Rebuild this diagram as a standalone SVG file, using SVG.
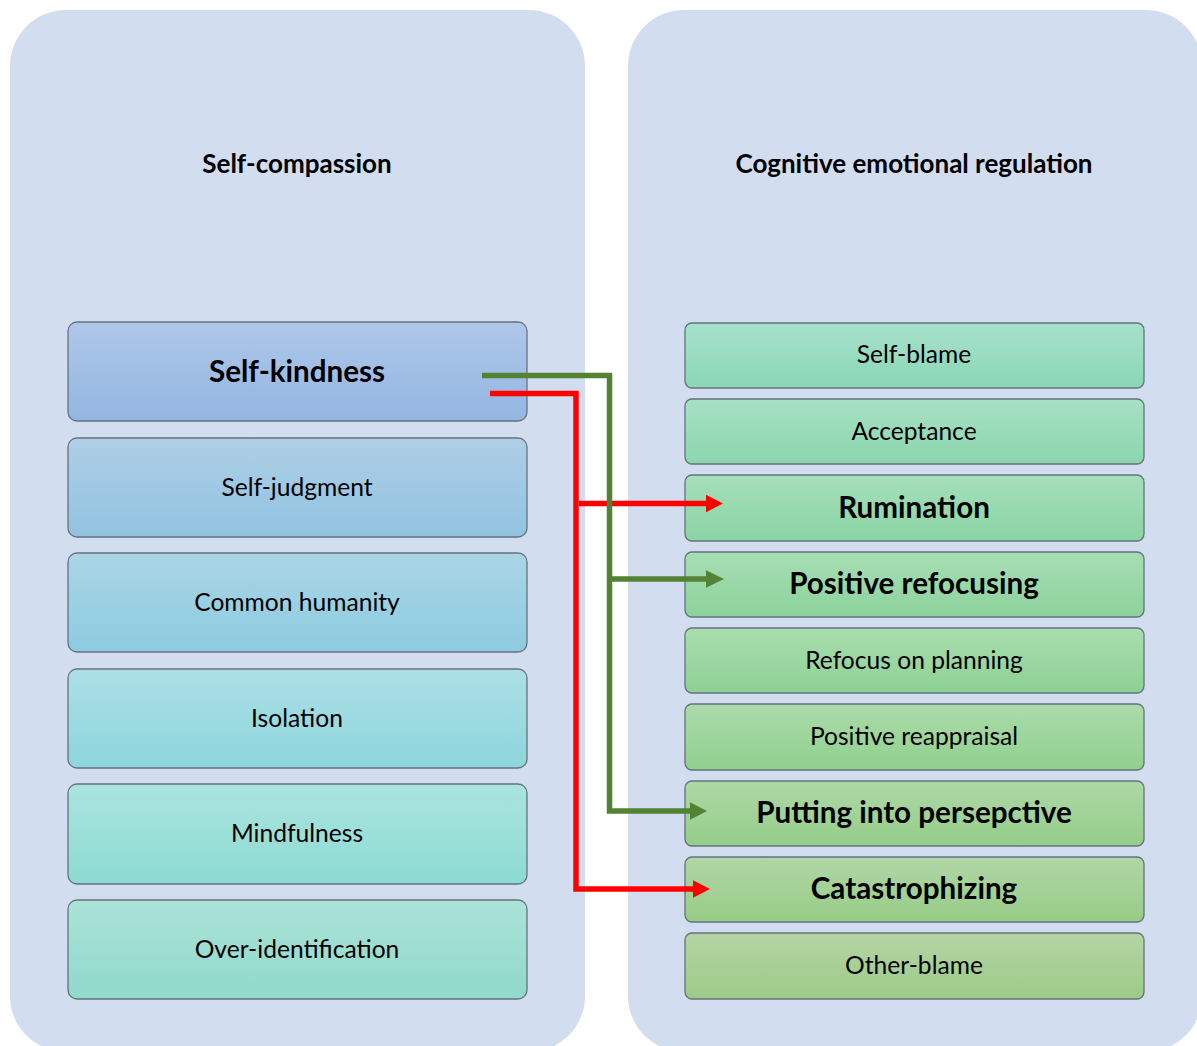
<svg xmlns="http://www.w3.org/2000/svg" width="1197" height="1046" viewBox="0 0 1197 1046">
  <style>
    .panel { fill: #d2deef; }
    .box { stroke: #66727e; stroke-width: 1.3; }
    .title { font-family: Lato, "Liberation Sans", sans-serif; font-weight: bold; font-size: 26px; fill: #000; text-anchor: middle; }
    .lbl { font-family: Lato, "Liberation Sans", sans-serif; font-size: 24.6px; fill: #000; text-anchor: middle; }
    .big { font-family: Lato, "Liberation Sans", sans-serif; font-weight: bold; font-size: 29.6px; fill: #000; text-anchor: middle; }
    .green { fill: none; stroke: #548235; stroke-width: 5.5; }
    .red { fill: none; stroke: #ff0000; stroke-width: 5.5; }
    .headG { fill: #548235; }
    .headR { fill: #ff0000; }
  </style>
  <defs>
    <linearGradient id="gL1" x1="0" y1="0" x2="0" y2="1"><stop offset="0" stop-color="#afc7e9"/><stop offset="1" stop-color="#93b6e1"/></linearGradient>
    <linearGradient id="gL2" x1="0" y1="0" x2="0" y2="1"><stop offset="0" stop-color="#aecfe6"/><stop offset="1" stop-color="#91c3e1"/></linearGradient>
    <linearGradient id="gL3" x1="0" y1="0" x2="0" y2="1"><stop offset="0" stop-color="#aad5e6"/><stop offset="1" stop-color="#8dcbe0"/></linearGradient>
    <linearGradient id="gL4" x1="0" y1="0" x2="0" y2="1"><stop offset="0" stop-color="#acdfe5"/><stop offset="1" stop-color="#8dd6dd"/></linearGradient>
    <linearGradient id="gL5" x1="0" y1="0" x2="0" y2="1"><stop offset="0" stop-color="#abe4df"/><stop offset="1" stop-color="#8cdbd3"/></linearGradient>
    <linearGradient id="gL6" x1="0" y1="0" x2="0" y2="1"><stop offset="0" stop-color="#abe3d7"/><stop offset="1" stop-color="#8fd9cb"/></linearGradient>
    <linearGradient id="gR1" x1="0" y1="0" x2="0" y2="1"><stop offset="0" stop-color="#a7e1ca"/><stop offset="1" stop-color="#8ad7b7"/></linearGradient>
    <linearGradient id="gR2" x1="0" y1="0" x2="0" y2="1"><stop offset="0" stop-color="#a7e0c3"/><stop offset="1" stop-color="#8bd6ae"/></linearGradient>
    <linearGradient id="gR3" x1="0" y1="0" x2="0" y2="1"><stop offset="0" stop-color="#a6dfbb"/><stop offset="1" stop-color="#8ad4a4"/></linearGradient>
    <linearGradient id="gR4" x1="0" y1="0" x2="0" y2="1"><stop offset="0" stop-color="#a7deb4"/><stop offset="1" stop-color="#8cd29c"/></linearGradient>
    <linearGradient id="gR5" x1="0" y1="0" x2="0" y2="1"><stop offset="0" stop-color="#a9ddae"/><stop offset="1" stop-color="#8dd194"/></linearGradient>
    <linearGradient id="gR6" x1="0" y1="0" x2="0" y2="1"><stop offset="0" stop-color="#abdbaa"/><stop offset="1" stop-color="#90d08e"/></linearGradient>
    <linearGradient id="gR7" x1="0" y1="0" x2="0" y2="1"><stop offset="0" stop-color="#aed8a6"/><stop offset="1" stop-color="#95cd8a"/></linearGradient>
    <linearGradient id="gR8" x1="0" y1="0" x2="0" y2="1"><stop offset="0" stop-color="#b0d6a5"/><stop offset="1" stop-color="#98cc88"/></linearGradient>
    <linearGradient id="gR9" x1="0" y1="0" x2="0" y2="1"><stop offset="0" stop-color="#b4d4a4"/><stop offset="1" stop-color="#9ccb88"/></linearGradient>
  </defs>

  <rect width="1197" height="1046" fill="#ffffff"/>

  <!-- container panels -->
  <g id="panel-self-compassion">
    <rect class="panel" x="10" y="10" width="575" height="1042" rx="56" ry="56"/>
    <text class="title" x="297" y="173">Self-compassion</text>
  </g>
  <g id="panel-cer">
    <rect class="panel" x="628" y="10" width="574" height="1042" rx="56" ry="56"/>
    <text class="title" x="914" y="173">Cognitive emotional regulation</text>
  </g>

  <!-- self-compassion facets -->
  <g id="n-self-kindness"><rect class="box" x="68" y="322" width="459" height="99" rx="9" fill="url(#gL1)"/><text class="big" x="297" y="382">Self-kindness</text></g>
  <g id="n-self-judgment"><rect class="box" x="68" y="438" width="459" height="99" rx="9" fill="url(#gL2)"/><text class="lbl" x="297" y="496">Self-judgment</text></g>
  <g id="n-common-humanity"><rect class="box" x="68" y="553" width="459" height="99" rx="9" fill="url(#gL3)"/><text class="lbl" x="297" y="611">Common humanity</text></g>
  <g id="n-isolation"><rect class="box" x="68" y="669" width="459" height="99" rx="9" fill="url(#gL4)"/><text class="lbl" x="297" y="727">Isolation</text></g>
  <g id="n-mindfulness"><rect class="box" x="68" y="784" width="459" height="100" rx="9" fill="url(#gL5)"/><text class="lbl" x="297" y="842">Mindfulness</text></g>
  <g id="n-over-identification"><rect class="box" x="68" y="900" width="459" height="99" rx="9" fill="url(#gL6)"/><text class="lbl" x="297" y="958">Over-identification</text></g>

  <!-- regulation strategies -->
  <g id="n-self-blame"><rect class="box" x="685" y="323" width="459" height="65" rx="7" fill="url(#gR1)"/><text class="lbl" x="914" y="363">Self-blame</text></g>
  <g id="n-acceptance"><rect class="box" x="685" y="399" width="459" height="65" rx="7" fill="url(#gR2)"/><text class="lbl" x="914" y="440">Acceptance</text></g>
  <g id="n-rumination"><rect class="box" x="685" y="475" width="459" height="66" rx="7" fill="url(#gR3)"/><text class="big" x="914" y="518">Rumination</text></g>
  <g id="n-positive-refocusing"><rect class="box" x="685" y="552" width="459" height="65" rx="7" fill="url(#gR4)"/><text class="big" x="914" y="594">Positive refocusing</text></g>
  <g id="n-refocus-planning"><rect class="box" x="685" y="628" width="459" height="65" rx="7" fill="url(#gR5)"/><text class="lbl" x="914" y="669">Refocus on planning</text></g>
  <g id="n-positive-reappraisal"><rect class="box" x="685" y="704" width="459" height="66" rx="7" fill="url(#gR6)"/><text class="lbl" x="914" y="745">Positive reappraisal</text></g>
  <g id="n-perspective"><rect class="box" x="685" y="781" width="459" height="65" rx="7" fill="url(#gR7)"/><text class="big" x="914" y="823">Putting into persepctive</text></g>
  <g id="n-catastrophizing"><rect class="box" x="685" y="857" width="459" height="65" rx="7" fill="url(#gR8)"/><text class="big" x="914" y="899">Catastrophizing</text></g>
  <g id="n-other-blame"><rect class="box" x="685" y="933" width="459" height="66" rx="7" fill="url(#gR9)"/><text class="lbl" x="914" y="974">Other-blame</text></g>

  <!-- connectors: red = negative links, green = positive links -->
  <g id="connectors">
    <path class="red" d="M490,393.5 H576 V889 H694" />
    <polygon class="headR" points="693,880.3 710,889 693,897.7" />
    <path class="red" d="M579,503.5 H707" />
    <polygon class="headR" points="706,494.8 723,503.5 706,512.2" />
    <path class="green" d="M482,375.5 H609.5 V811 H691" />
    <polygon class="headG" points="690,802.3 707,811 690,819.7" />
    <path class="green" d="M609.5,579 H707" />
    <polygon class="headG" points="706,570.3 724,579 706,587.7" />
  </g>
</svg>
